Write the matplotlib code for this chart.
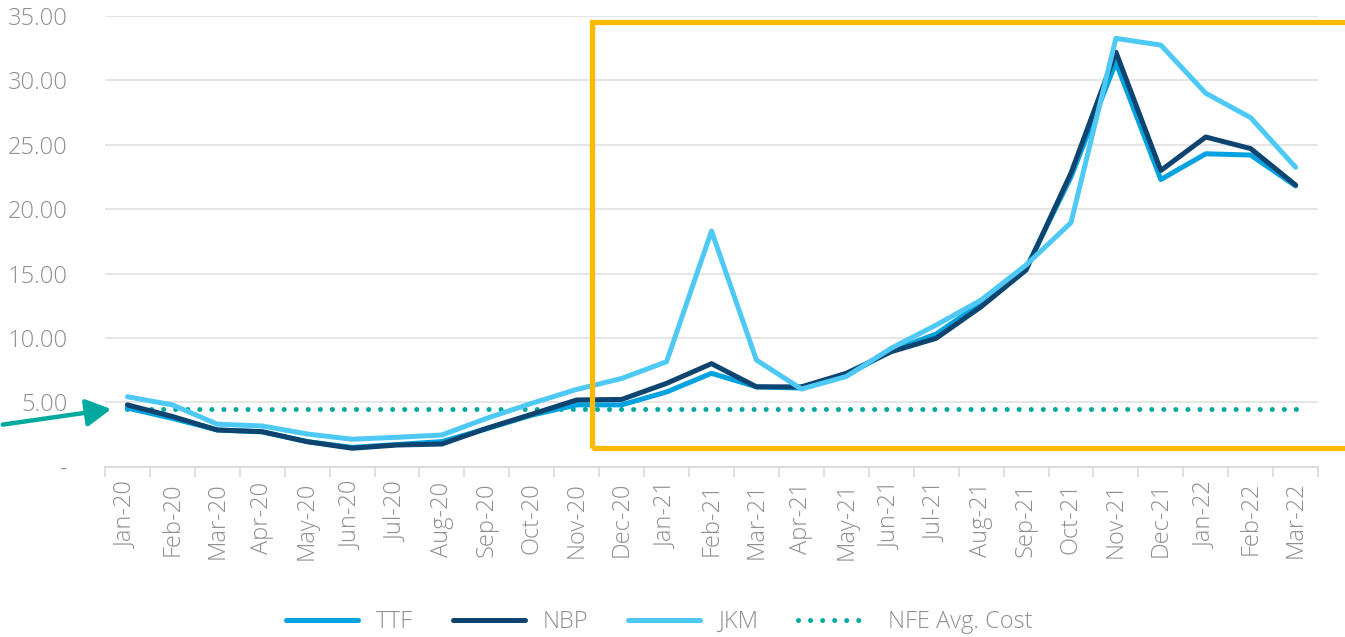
import matplotlib.pyplot as plt
from matplotlib.patches import Rectangle
import numpy as np

plt.rcParams['font.family'] = ['Open Sans', 'DejaVu Sans']

months = ["Jan-20", "Feb-20", "Mar-20", "Apr-20", "May-20", "Jun-20", "Jul-20",
          "Aug-20", "Sep-20", "Oct-20", "Nov-20", "Dec-20", "Jan-21", "Feb-21",
          "Mar-21", "Apr-21", "May-21", "Jun-21", "Jul-21", "Aug-21", "Sep-21",
          "Oct-21", "Nov-21", "Dec-21", "Jan-22", "Feb-22", "Mar-22"]

ttf = [4.55, 3.75, 2.85, 2.7, 1.95, 1.5, 1.72, 1.95, 2.95, 4.0, 4.8, 4.8, 5.8,
       7.25, 6.2, 6.1, 7.1, 9.0, 10.3, 12.7, 15.4, 22.5, 31.4, 22.3, 24.3, 24.2, 21.8]
nbp = [4.8, 3.9, 2.85, 2.72, 1.94, 1.43, 1.68, 1.76, 2.98, 4.07, 5.18, 5.22, 6.47,
       8.0, 6.2, 6.2, 7.25, 8.93, 9.97, 12.42, 15.27, 22.8, 32.2, 23.0, 25.6, 24.7, 21.87]
jkm = [5.43, 4.8, 3.3, 3.16, 2.54, 2.13, 2.28, 2.46, 3.76, 4.92, 6.0, 6.85, 8.15,
       18.3, 8.28, 6.03, 7.0, 9.2, 11.0, 12.94, 15.66, 18.95, 33.26, 32.74, 29.0, 27.1, 23.25]
nfe_cost = [4.5] * len(months)

yticks = [0, 5, 10, 15, 20, 25, 30, 35]
ytick_labels = ["-", "5.00", "10.00", "15.00", "20.00", "25.00", "30.00", "35.00"]

gray = "#8f8f8f"
x = np.arange(len(months))

fig = plt.figure(figsize=(13.45, 6.37), dpi=100)
ax = fig.add_axes([0.078, 0.2674, 0.902, 0.7075])

ax.plot(x, ttf, color="#00a3e0", lw=3.6, label="TTF", solid_capstyle="round", zorder=3)
ax.plot(x, nbp, color="#0d4470", lw=3.6, label="NBP", solid_capstyle="round", zorder=4)
ax.plot(x, jkm, color="#4ec9f5", lw=3.6, label="JKM", solid_capstyle="round", zorder=5)
ax.plot(x, nfe_cost, color="#00a99d", lw=3.6, linestyle=(0, (0.01, 2.4)),
        dash_capstyle="round", label="NFE Avg. Cost", zorder=2)

ax.set_xlim(-0.5, len(months) - 0.5)
ax.set_ylim(0, 35)
ax.set_yticks(yticks)
ax.set_yticklabels(ytick_labels)
ax.set_xticks(x)
ax.set_xticklabels(months, rotation=90)
ax.set_xticks(np.arange(len(months) + 1) - 0.5, minor=True)

ax.tick_params(axis="y", length=0, pad=27, labelsize=17, labelcolor=gray)
ax.tick_params(axis="x", which="major", length=0, pad=11, labelsize=17, labelcolor=gray)
ax.tick_params(axis="x", which="minor", length=7, width=1.2, color="#d9d9d9")
for t in ax.get_xticklabels() + ax.get_yticklabels():
    t.set_fontweight("light")

ax.grid(axis="y", color="#e3e3e3", lw=1.3)
ax.set_axisbelow(True)
for s in ["top", "right", "left"]:
    ax.spines[s].set_visible(False)
ax.spines["bottom"].set_color("#d9d9d9")
ax.spines["bottom"].set_linewidth(1.3)

# highlight box
ax.add_patch(Rectangle((10.35, 1.43), 20, 33.07, fill=False, edgecolor="#ffb900",
                       lw=3.8, clip_on=False, zorder=6))

# arrow pointing at the avg cost line
ax.annotate("", xy=(-0.3, 4.5), xycoords="data",
            xytext=(0.0, 1 - 425 / 637), textcoords="figure fraction",
            arrowprops=dict(arrowstyle="-|>,head_length=1.0,head_width=0.55",
                            mutation_scale=15, color="#00a99d", lw=3.2),
            annotation_clip=False)

leg = fig.legend(loc="center", bbox_to_anchor=(0.49, 1 - 622 / 637), ncol=4,
                 frameon=False, fontsize=17, labelcolor=gray, handlelength=3.05,
                 handletextpad=0.75, columnspacing=1.7)
for t in leg.get_texts():
    t.set_fontweight("light")

fig.savefig("out.png", dpi=100)
